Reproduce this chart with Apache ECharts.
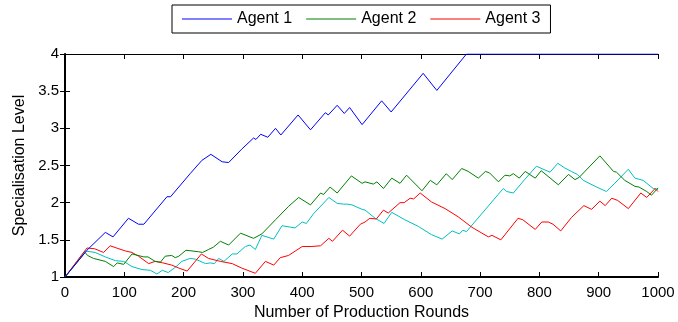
<!DOCTYPE html>
<html><head><meta charset="utf-8">
<script src="https://cdn.jsdelivr.net/npm/echarts@6/dist/echarts.min.js"></script>
<style>html,body{margin:0;padding:0;background:#fff}#c{width:678px;height:322px}</style>
</head><body><div id="c"></div>
<script>
const seriesNames = ['Agent 1', 'Agent 2', 'Agent 3', 'Agent 4'];
const xTicks = [0,100,200,300,400,500,600,700,800,900,1000];
const yTicks = [1,1.5,2,2.5,3,3.5,4];
const agent1 = [[0,1],[37,1.36],[68,1.60],[81,1.54],[107,1.79],[124,1.71],[133,1.71],[172,2.08],[178,2.08],[211,2.39],[231,2.57],[246,2.65],[265,2.55],[276,2.54],[298,2.72],[318,2.87],[322,2.85],[330,2.92],[342,2.88],[355,3.00],[364,2.91],[393,3.18],[414,2.98],[439,3.21],[444,3.18],[459,3.31],[471,3.20],[480,3.28],[501,3.05],[534,3.37],[550,3.22],[604,3.74],[627,3.51],[677,4.0],[1000,4.0]];
const agent2 = [[0,1],[34,1.33],[38,1.29],[48,1.25],[68,1.21],[82,1.14],[88,1.19],[99,1.17],[113,1.31],[133,1.27],[140,1.27],[152,1.21],[161,1.20],[169,1.28],[180,1.29],[186,1.26],[192,1.28],[204,1.36],[225,1.34],[232,1.33],[242,1.37],[250,1.40],[262,1.48],[276,1.43],[296,1.59],[318,1.52],[332,1.58],[355,1.77],[377,1.95],[394,2.07],[414,1.97],[431,2.13],[436,2.11],[447,2.21],[459,2.13],[483,2.36],[501,2.26],[506,2.28],[520,2.25],[526,2.28],[537,2.19],[551,2.33],[565,2.26],[576,2.37],[602,2.16],[616,2.30],[627,2.24],[643,2.39],[653,2.31],[669,2.46],[680,2.42],[697,2.33],[709,2.42],[716,2.40],[731,2.28],[742,2.37],[750,2.36],[756,2.39],[766,2.33],[776,2.42],[793,2.33],[803,2.43],[832,2.24],[849,2.38],[860,2.31],[867,2.34],[902,2.63],[925,2.42],[930,2.41],[944,2.30],[961,2.22],[968,2.21],[981,2.15],[989,2.10],[998,2.18],[1000,2.20]];
const agent3 = [[0,1],[37,1.39],[50,1.38],[65,1.33],[76,1.42],[87,1.39],[102,1.35],[113,1.33],[124,1.28],[141,1.18],[152,1.21],[165,1.19],[180,1.16],[192,1.12],[206,1.08],[230,1.31],[242,1.25],[262,1.21],[282,1.18],[298,1.12],[321,1.05],[338,1.21],[352,1.16],[363,1.26],[377,1.29],[400,1.41],[415,1.41],[431,1.42],[445,1.52],[451,1.48],[468,1.63],[480,1.55],[498,1.71],[506,1.74],[514,1.79],[525,1.78],[537,1.90],[545,1.86],[565,2.00],[572,2.00],[582,2.06],[588,2.05],[599,2.13],[618,2.01],[641,1.92],[663,1.81],[686,1.67],[703,1.59],[714,1.54],[720,1.56],[735,1.50],[764,1.79],[772,1.77],[793,1.64],[804,1.74],[815,1.74],[823,1.71],[836,1.62],[854,1.80],[875,1.96],[888,1.91],[902,2.02],[911,1.96],[922,2.06],[932,2.03],[950,1.92],[971,2.13],[981,2.07],[995,2.19],[1000,2.15]];
const agent4 = [[0,1],[34,1.35],[51,1.33],[68,1.27],[85,1.22],[99,1.21],[113,1.14],[130,1.10],[144,1.09],[155,1.04],[164,1.09],[174,1.06],[186,1.13],[197,1.21],[211,1.25],[220,1.24],[237,1.18],[245,1.19],[252,1.18],[259,1.25],[268,1.21],[282,1.31],[290,1.31],[304,1.41],[312,1.43],[321,1.37],[332,1.56],[352,1.51],[366,1.69],[388,1.66],[400,1.74],[407,1.72],[419,1.85],[445,2.07],[459,1.99],[470,1.98],[476,1.98],[484,1.97],[501,1.91],[506,1.90],[523,1.79],[538,1.72],[551,1.87],[573,1.77],[596,1.68],[618,1.57],[636,1.51],[653,1.62],[665,1.58],[671,1.63],[677,1.61],[739,2.19],[745,2.15],[756,2.13],[775,2.31],[795,2.49],[818,2.41],[831,2.53],[842,2.47],[854,2.42],[864,2.38],[874,2.30],[894,2.22],[913,2.15],[927,2.26],[950,2.45],[961,2.33],[975,2.30],[992,2.19],[1000,2.18]];
const colors = ['#0000ff', '#008000', '#ff0000', '#00bfbf'];
const font = 'Liberation Sans, Arial, sans-serif';

const chart = echarts.init(document.getElementById('c'), null, {renderer: 'canvas'});
const line = w => ({show: true, lineStyle: {color: '#000', width: w}});
const tick = {show: true, inside: true, length: 5, lineStyle: {color: '#000', width: 1}};
chart.setOption({
  animation: false,
  grid: {left: 65, right: 20, top: 54, bottom: 45, containLabel: false, outerBoundsMode: 'none'},
  legend: {
    data: seriesNames.slice(0, 3),
    top: 5, left: 172,
    itemWidth: 50, itemHeight: 1, itemGap: 14,
    borderColor: '#000', borderWidth: 1, borderRadius: 0,
    padding: [6, 10, 6, 10],
    textStyle: {fontFamily: font, fontSize: 16, color: '#000'},
    icon: 'rect'
  },
  xAxis: [{
    type: 'value', min: 0, max: 1000, interval: 100, position: 'bottom',
    name: 'Number of Production Rounds', nameLocation: 'middle', nameGap: 24,
    nameTextStyle: {fontFamily: font, fontSize: 16, color: '#000'},
    axisLine: line(2), axisTick: tick, splitLine: {show: false},
    axisLabel: {fontFamily: font, fontSize: 15, color: '#000', margin: 8,
      formatter: v => xTicks.includes(v) ? String(v) : ''}
  }, {
    type: 'value', min: 0, max: 1000, interval: 100, position: 'top',
    axisLine: line(1), axisTick: tick, axisLabel: {show: false}, splitLine: {show: false}
  }],
  yAxis: [{
    type: 'value', min: 1, max: 4, interval: 0.5, position: 'left',
    name: 'Specialisation Level', nameLocation: 'middle', nameGap: 35, nameRotate: 90,
    nameTextStyle: {fontFamily: font, fontSize: 16, color: '#000'},
    axisLine: line(1), axisTick: tick, splitLine: {show: false},
    axisLabel: {fontFamily: font, fontSize: 15, color: '#000', margin: 6,
      formatter: v => yTicks.includes(v) ? String(v) : ''}
  }, {
    type: 'value', min: 1, max: 4, interval: 0.5, position: 'right',
    axisLine: line(2), axisTick: tick, axisLabel: {show: false}, splitLine: {show: false}
  }],
  series: [agent1, agent2, agent3, agent4].map((d, i) => ({
    name: seriesNames[i], type: 'line', data: d, showSymbol: false,
    lineStyle: {color: colors[i], width: 1}, itemStyle: {color: colors[i]},
    z: 4 - i
  }))
});
</script></body></html>
